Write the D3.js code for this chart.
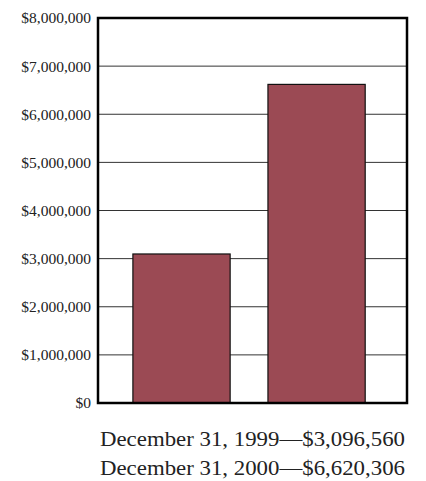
<!DOCTYPE html>
<html>
<head>
<meta charset="utf-8">
<script src="https://cdn.jsdelivr.net/npm/d3@7"></script>
<style>
  body { margin: 0; background: #fff; }
  text { font-family: "Liberation Serif", "DejaVu Serif", serif; fill: #222; }
</style>
</head>
<body>
<svg id="chart" width="426" height="481"></svg>
<script>
// chart data
var dates = ["December 31, 1999", "December 31, 2000"];
var values = [3096560, 6620306];
var labels = ["$3,096,560", "$6,620,306"];
var tickValues = [0, 1000000, 2000000, 3000000, 4000000, 5000000, 6000000, 7000000, 8000000];

var margin = { top: 18, right: 19, bottom: 78, left: 98 };
var width = 426 - margin.left - margin.right;
var height = 481 - margin.top - margin.bottom;

var svg = d3.select("#chart")
  .append("g")
  .attr("transform", "translate(" + margin.left + "," + margin.top + ")");

var x = d3.scaleBand().domain(dates).range([0, width])
  .paddingInner(0.28).paddingOuter(0.284).align(0.455);
var y = d3.scaleLinear().domain([0, 8000000]).range([height, 0]);

// grid lines
svg.append("g")
  .selectAll("line")
  .data(tickValues)
  .enter()
  .append("line")
  .attr("x1", 0)
  .attr("x2", width)
  .attr("y1", d => y(d))
  .attr("y2", d => y(d))
  .attr("stroke", "#333")
  .attr("stroke-width", 1);

// bars
svg.selectAll(".bar")
  .data(values)
  .enter()
  .append("rect")
  .attr("class", "bar")
  .attr("x", (d, i) => x(dates[i]))
  .attr("width", x.bandwidth())
  .attr("y", d => y(d))
  .attr("height", d => height - y(d))
  .attr("fill", "#9b4a54")
  .attr("stroke", "#111")
  .attr("stroke-width", 1.2);

// frame
svg.append("rect")
  .attr("x", 0)
  .attr("y", 0)
  .attr("width", width)
  .attr("height", height)
  .attr("fill", "none")
  .attr("stroke", "#000")
  .attr("stroke-width", 2.5);

// y axis labels
var yAxis = d3.axisLeft(y)
  .tickValues(tickValues)
  .tickSize(0)
  .tickPadding(7)
  .tickFormat(d => "$" + d3.format(",")(d));

var yg = svg.append("g")
  .call(yAxis)
  .attr("font-family", "'Liberation Serif', serif")
  .attr("font-size", 15.5);
yg.select(".domain").remove();
yg.selectAll("text").attr("fill", "#222");

// caption
svg.append("g")
  .selectAll("text")
  .data(dates)
  .enter()
  .append("text")
  .attr("x", 2)
  .attr("y", (d, i) => height + 43 + i * 29)
  .attr("textLength", 305)
  .attr("lengthAdjust", "spacingAndGlyphs")
  .style("font-size", "21px")
  .text((d, i) => d + "\u2014" + labels[i]);
</script>
</body>
</html>
